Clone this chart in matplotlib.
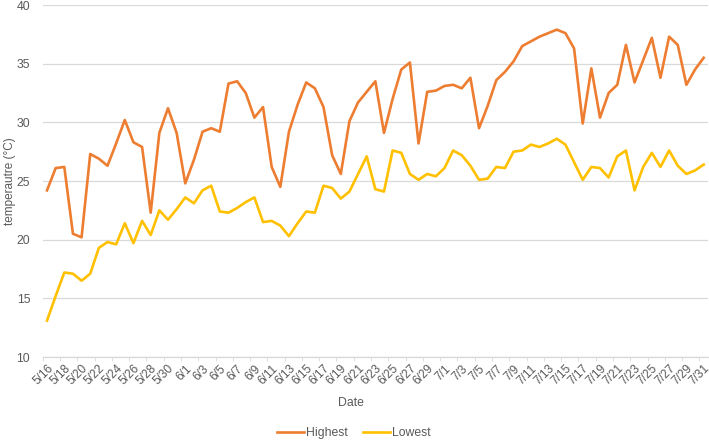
import matplotlib
matplotlib.use("Agg")
import matplotlib.pyplot as plt
import matplotlib.transforms as mtrans
import datetime as dt

dates = [(dt.date(2020, 5, 16) + dt.timedelta(days=i)) for i in range(77)]
date_labels = [f"{d.month}/{d.day}" for d in dates]

highest = [24.2, 26.1, 26.2, 20.5, 20.2, 27.3, 26.9, 26.3, 28.2, 30.2,
           28.3, 27.9, 22.3, 29.1, 31.2, 29.1, 24.8, 26.8, 29.2, 29.5,
           29.2, 33.3, 33.5, 32.5, 30.4, 31.3, 26.2, 24.5, 29.2, 31.5,
           33.4, 32.9, 31.3, 27.2, 25.6, 30.1, 31.7, 32.6, 33.5, 29.1,
           32.0, 34.5, 35.1, 28.2, 32.6, 32.7, 33.1, 33.2, 32.9, 33.8,
           29.5, 31.4, 33.6, 34.3, 35.2, 36.5, 36.9, 37.3, 37.6, 37.9,
           37.6, 36.3, 29.9, 34.6, 30.4, 32.5, 33.2, 36.6, 33.4, 35.3,
           37.2, 33.8, 37.3, 36.6, 33.2, 34.5, 35.5]
lowest = [13.1, 15.2, 17.2, 17.1, 16.5, 17.1, 19.3, 19.8, 19.6, 21.4,
          19.7, 21.6, 20.4, 22.5, 21.7, 22.6, 23.6, 23.1, 24.2, 24.6,
          22.4, 22.3, 22.7, 23.2, 23.6, 21.5, 21.6, 21.2, 20.3, 21.4,
          22.4, 22.3, 24.6, 24.4, 23.5, 24.1, 25.6, 27.1, 24.3, 24.1,
          27.6, 27.4, 25.6, 25.1, 25.6, 25.4, 26.1, 27.6, 27.2, 26.3,
          25.1, 25.2, 26.2, 26.1, 27.5, 27.6, 28.1, 27.9, 28.2, 28.6,
          28.1, 26.6, 25.1, 26.2, 26.1, 25.3, 27.1, 27.6, 24.2, 26.2,
          27.4, 26.2, 27.6, 26.3, 25.6, 25.9, 26.4]
y_ticks = [10, 15, 20, 25, 30, 35, 40]

plt.rcParams['font.family'] = ['Liberation Sans', 'DejaVu Sans']

fig = plt.figure(figsize=(7.09, 4.41), dpi=100)
W, H = 709, 441
ax = fig.add_axes([42.7 / W, (H - 357) / H, (708 - 42.7) / W, (357 - 5) / H])

x = list(range(len(dates)))
l1, = ax.plot(x, highest, color='#ED7D31', lw=1.9, solid_joinstyle='round', label='Highest')
l2, = ax.plot(x, lowest, color='#FFC000', lw=1.9, solid_joinstyle='round', label='Lowest')

ax.set_xlim(-0.5, len(dates) - 0.5)
ax.set_ylim(10, 40)
ax.set_yticks(y_ticks)
ax.grid(axis='y', color='#d9d9d9', lw=0.9)
ax.set_axisbelow(True)
for s in ['top', 'right', 'left']:
    ax.spines[s].set_visible(False)
ax.spines['bottom'].set_color('#d9d9d9')
ax.spines['bottom'].set_linewidth(0.9)

ax.set_xticks(x[::2])
ax.set_xticklabels(date_labels[::2], rotation=45, ha='right', va='top',
                   rotation_mode='anchor', fontsize=8.6, color='#595959')
shift = mtrans.ScaledTranslation(-2.5 / 72, 0, fig.dpi_scale_trans)
for lab in ax.get_xticklabels():
    lab.set_transform(lab.get_transform() + shift)
ax.set_xticks([i - 0.5 for i in range(0, len(dates) + 1, 2)], minor=True)
ax.tick_params(axis='x', which='major', length=0, pad=4)
ax.tick_params(axis='x', which='minor', length=3, color='#d9d9d9')
ax.tick_params(axis='y', length=0, labelsize=8.8, labelcolor='#595959', pad=9)

fig.text(10 / W, 1 - 181 / H, 'temperautre (°C)', rotation=90, ha='center', va='center',
         fontsize=8.5, color='#595959')
fig.text(351 / W, 1 - 403 / H, 'Date', ha='center', va='center', fontsize=8.8,
         color='#595959')

leg = fig.legend(handles=[l1, l2], loc='center', bbox_to_anchor=(354 / W, 1 - 433 / H),
                 ncol=2, frameon=False, fontsize=8.8, handlelength=2.2,
                 handletextpad=0.2, columnspacing=1.2, labelcolor='#595959')

fig.savefig('out.png', dpi=100)
